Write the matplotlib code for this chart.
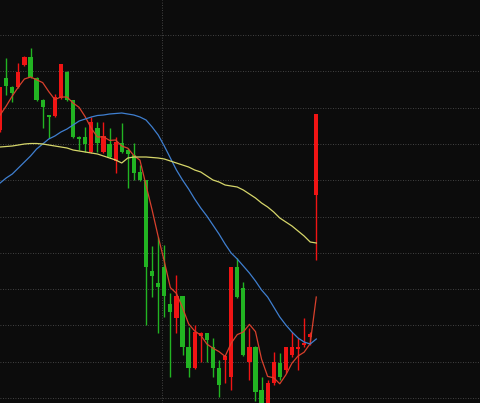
import numpy as np
import pandas as pd
import matplotlib
matplotlib.use("Agg")
import matplotlib.pyplot as plt

# daily candles (price), oldest first
opens = [13.20, 13.72, 13.63, 13.63, 13.85, 13.93, 13.72, 13.50, 13.35, 13.34,
         13.52, 13.78, 13.50, 13.13, 13.13, 12.98, 13.22, 12.98, 13.06, 12.89,
         13.07, 13.00, 12.95, 12.78, 12.70, 11.79, 11.67, 11.83, 11.46, 11.32,
         11.54, 11.03, 10.82, 11.14, 11.17, 11.03, 10.82, 10.90, 10.73, 11.83,
         11.62, 10.88, 11.03, 10.60, 10.40, 10.67, 10.87, 10.80, 10.95, 11.01,
         11.05, 11.13, 12.55]
highs = [13.63, 13.92, 13.64, 13.87, 13.94, 14.02, 13.73, 13.51, 13.35, 13.56,
         13.86, 13.79, 13.50, 13.14, 13.23, 13.33, 13.28, 13.28, 13.22, 13.13,
         13.27, 13.02, 13.07, 12.85, 12.70, 12.04, 12.13, 12.05, 11.57, 11.75,
         11.54, 11.23, 11.25, 11.18, 11.17, 11.12, 10.90, 10.95, 11.83, 11.92,
         11.68, 11.22, 11.04, 10.73, 10.70, 10.98, 10.97, 11.03, 11.18, 11.12,
         11.32, 11.18, 13.36]
lows = [13.18, 13.55, 13.48, 13.62, 13.84, 13.72, 13.49, 13.22, 13.12, 13.33,
        13.51, 13.49, 13.12, 13.00, 12.98, 12.97, 12.98, 12.97, 12.92, 12.77,
        12.97, 12.62, 12.70, 12.69, 11.25, 11.53, 11.17, 11.33, 10.73, 11.17,
        10.95, 10.73, 10.81, 10.88, 10.88, 10.73, 10.53, 10.67, 10.60, 11.52,
        10.94, 10.70, 10.49, 10.40, 10.38, 10.65, 10.70, 10.77, 10.93, 10.80,
        11.03, 11.05, 11.90]
closes = [13.63, 13.64, 13.57, 13.78, 13.93, 13.73, 13.50, 13.43, 13.33, 13.53,
          13.86, 13.50, 13.13, 13.11, 13.06, 13.28, 13.07, 13.14, 12.93, 13.08,
          12.98, 12.96, 12.77, 12.70, 11.83, 11.74, 11.63, 11.54, 11.38, 11.54,
          11.03, 10.82, 11.18, 11.17, 11.10, 10.82, 10.65, 10.94, 11.83, 11.53,
          10.95, 11.03, 10.58, 10.45, 10.67, 10.88, 10.73, 11.03, 11.03, 11.03,
          11.07, 11.16, 13.36]

# MA5 values for the first days (history before the window)
ma5_head = [13.35, 13.44, 13.54, 13.63]

ma20 = [12.67, 12.72, 12.76, 12.82, 12.88, 12.94, 13.01, 13.06, 13.11, 13.14,
        13.18, 13.21, 13.25, 13.29, 13.31, 13.33, 13.345, 13.35, 13.36, 13.365,
        13.37, 13.36, 13.35, 13.33, 13.30, 13.23, 13.15, 13.04, 12.92, 12.80,
        12.70, 12.61, 12.51, 12.42, 12.34, 12.25, 12.16, 12.06, 11.97, 11.91,
        11.84, 11.77, 11.69, 11.60, 11.53, 11.43, 11.33, 11.25, 11.18, 11.12,
        11.08, 11.06, 11.11]

ma60 = [13.03, 13.035, 13.04, 13.05, 13.06, 13.065, 13.065, 13.06, 13.05, 13.04,
        13.03, 13.02, 13.00, 12.99, 12.98, 12.97, 12.96, 12.94, 12.92, 12.90,
        12.87, 12.92, 12.93, 12.93, 12.93, 12.925, 12.92, 12.91, 12.89, 12.87,
        12.85, 12.83, 12.80, 12.78, 12.74, 12.70, 12.68, 12.65, 12.64, 12.63,
        12.60, 12.56, 12.52, 12.47, 12.43, 12.38, 12.32, 12.28, 12.24, 12.19,
        12.14, 12.08, 12.07]

df = pd.DataFrame({'open': opens, 'high': highs, 'low': lows, 'close': closes})
df['ma5'] = df['close'].rolling(5).mean()
df.loc[:3, 'ma5'] = ma5_head
x = np.arange(len(df))

UP = '#f01414'
DOWN = '#22b422'
BG = '#0c0c0c'

fig = plt.figure(figsize=(4.8, 4.03), dpi=100, facecolor=BG)
ax = fig.add_axes([0, 0, 1, 1], facecolor=BG)

up = df['close'] >= df['open']
colors = np.where(up, UP, DOWN)
body_bottom = np.minimum(df['open'], df['close'])
body_h = np.maximum((df['close'] - df['open']).abs(), 0.012)

ax.vlines(x, df['low'], df['high'], colors=colors, linewidth=1.0, zorder=2)
ax.bar(x, body_h, bottom=body_bottom, width=0.7, color=colors,
       linewidth=0, zorder=3)

ax.plot(x, df['ma5'], color='#d8402c', linewidth=0.9, zorder=4)
ax.plot(x, ma20, color='#3f7fd0', linewidth=0.9, zorder=4)
ax.plot(x, ma60, color='#d6d66a', linewidth=0.9, zorder=4)

ax.set_xlim(-0.02, 78.93)
ax.set_ylim(10.47, 14.50)
ax.set_yticks(np.linspace(10.52, 14.15, 11))
ax.set_xticks([26.7])
ax.grid(True, color='#555555', linestyle=(0, (1, 2)), linewidth=0.6, zorder=0)
ax.tick_params(length=0, labelleft=False, labelbottom=False)
for s in ax.spines.values():
    s.set_visible(False)

fig.savefig('out.png', dpi=100, facecolor=BG)
